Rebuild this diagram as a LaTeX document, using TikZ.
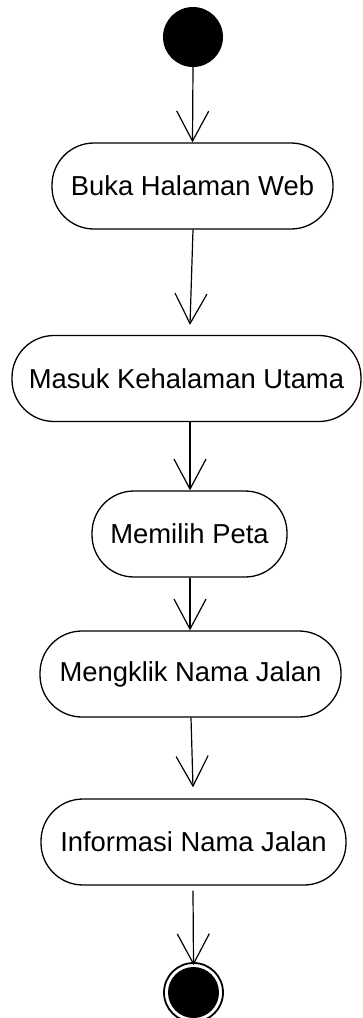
\documentclass[tikz,border=0pt]{standalone}
\usepackage{fontspec}
\setmainfont{Liberation Sans}
\usetikzlibrary{arrows.meta}

\begin{document}
\begin{tikzpicture}[x=1pt,y=-1pt,
  action/.style={draw=black, line width=1.3pt, rounded corners=42pt,
    minimum height=86pt, inner sep=0pt,
    font=\fontsize{27.4}{32}\selectfont},
  flow/.style={draw=black, line width=1.2pt,
    -{Straight Barb[length=30pt,width=32pt,line width=1.2pt]}},
  initial/.style={circle, fill=black, minimum size=60pt, inner sep=0pt},
  final/.style={circle, draw=black, line width=1.8pt, fill=white,
    minimum size=59pt, inner sep=0pt}]

  \useasboundingbox (0,0) rectangle (362,1018);

  % start and end states
  \node[initial] (start) at (193,37) {};
  \node[final] (stop) at (193.5,992.5) {};
  \fill[black] (stop.center) circle (25.5pt);

  % actions
  \node[action, minimum width=281pt] (buka)   at (192.5,186)   {Buka Halaman Web};
  \node[action, minimum width=349pt] (masuk)  at (186.5,378.5) {Masuk Kehalaman Utama};
  \node[action, minimum width=195pt] (peta)   at (189.5,534)   {Memilih Peta};
  \node[action, minimum width=301pt] (klik)   at (190.5,674)   {Mengklik Nama Jalan};
  \node[action, minimum width=305pt] (info)   at (193.5,842)   {Informasi Nama Jalan};

  % control flow
  \draw[flow] (start.south) -- (buka.north);
  \draw[flow] ([xshift=0.5pt]buka.south) -- ([xshift=3.5pt,yshift=10pt]masuk.north);
  \draw[flow] ([xshift=3.5pt]masuk.south) -- ([xshift=0.5pt]peta.north);
  \draw[flow] ([xshift=0.5pt]peta.south) -- ([xshift=-0.5pt]klik.north);
  \draw[flow] ([xshift=0.5pt]klik.south) -- ([xshift=-0.5pt,yshift=11pt]info.north);
  \draw[flow] ([xshift=-0.5pt,yshift=-5pt]info.south) -- ([yshift=-3pt]stop.north);
\end{tikzpicture}
\end{document}
